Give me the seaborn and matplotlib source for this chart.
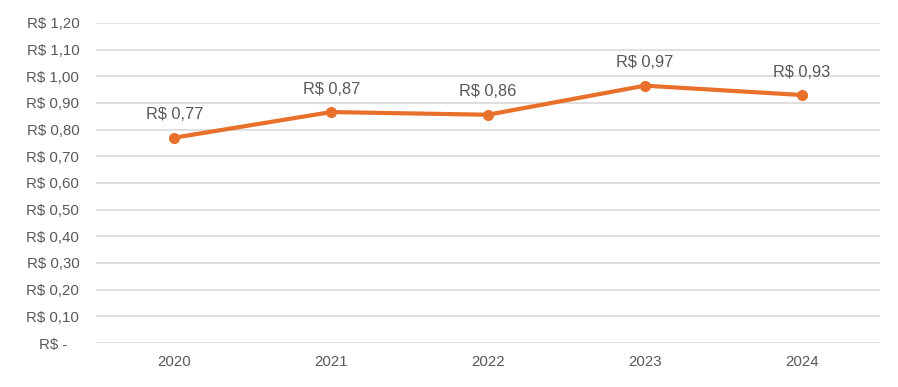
import numpy as np
import pandas as pd
import seaborn as sns
import matplotlib.pyplot as plt
from matplotlib.ticker import FuncFormatter, MultipleLocator

# === Dados ===
anos = ["2020", "2021", "2022", "2023", "2024"]
valores = [0.77, 0.866, 0.856, 0.965, 0.93]
rotulos = ["R$ 0,77", "R$ 0,87", "R$ 0,86", "R$ 0,97", "R$ 0,93"]

df = pd.DataFrame({"ano": anos, "valor": valores})

sns.set_theme(style="white")
plt.rcParams['font.family'] = ['Liberation Sans', 'DejaVu Sans']

cor = "#E8702A"
cinza = "#595959"

fig = plt.figure(figsize=(8.98, 3.87), dpi=100)
ax = fig.add_axes([96 / 898, 1 - 343 / 387, (880 - 96) / 898, (343 - 23) / 387])

sns.lineplot(data=df, x="ano", y="valor", ax=ax, color=cor, linewidth=3,
             marker="o", markersize=8, markeredgewidth=0, sort=False)

# rótulos de dados acima dos pontos
for i, (v, r) in enumerate(zip(valores, rotulos)):
    ax.annotate(r, (i, v), xytext=(0, 11), textcoords="offset points",
                ha="center", va="bottom", fontsize=11.8, color=cinza)

def fmt(y, pos):
    if abs(y) < 1e-9:
        return "R$ -   "
    return "R$ " + f"{y:.2f}".replace(".", ",")

ax.set_ylim(0, 1.2)
ax.yaxis.set_major_locator(MultipleLocator(0.1))
ax.yaxis.set_major_formatter(FuncFormatter(fmt))
ax.set_xlim(-0.5, len(anos) - 0.5)
ax.grid(axis="y", color="#D9D9D9", linewidth=1.2)
ax.set_axisbelow(True)
for s in ax.spines.values():
    s.set_visible(False)
ax.tick_params(axis="both", length=0, labelsize=10.8, labelcolor=cinza)
ax.tick_params(axis="y", pad=12)
ax.tick_params(axis="x", pad=9)
ax.set_xlabel("")
ax.set_ylabel("")

fig.savefig("out.png", dpi=100)
